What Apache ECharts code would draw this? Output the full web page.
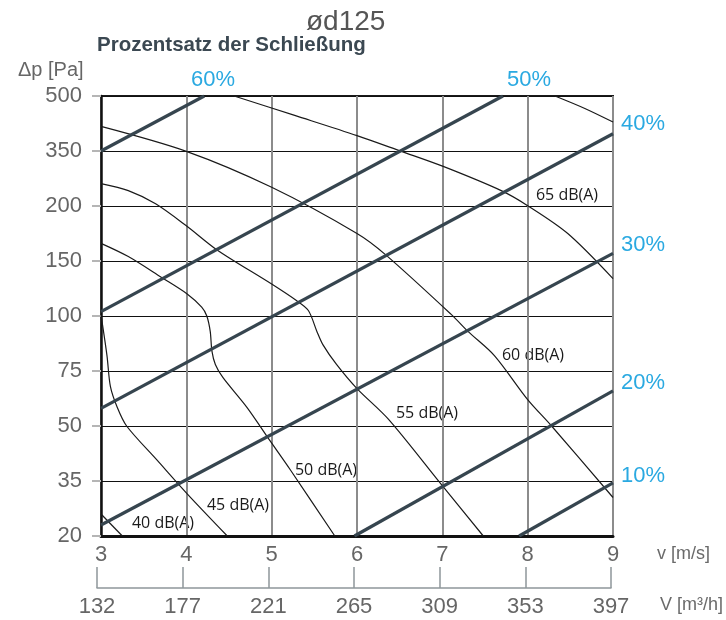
<!DOCTYPE html>
<html>
<head>
<meta charset="utf-8">
<script src="https://cdn.jsdelivr.net/npm/echarts@6/dist/echarts.min.js"></script>
<style>
  html, body { margin: 0; padding: 0; background: #fff; }
  #chart { width: 726px; height: 620px; }
</style>
</head>
<body>
<div id="chart"></div>
<script>
// Axis ticks
const velocityTicks = [3, 4, 5, 6, 7, 8, 9];               // v [m/s]
const flowTicks = [132, 177, 221, 265, 309, 353, 397];     // V [m³/h]
const pressureTicks = [20, 35, 50, 75, 100, 150, 200, 350, 500]; // Δp [Pa]

// Damper closure lines, [v, Δp]
const closure60 = [[3, 350], [4.21, 500]];
const closure50 = [[3, 104], [7.71, 500]];
const closure40 = [[3, 58], [9, 397]];
const closure30 = [[3, 23], [9, 157]];
const closure20 = [[5.97, 20], [9, 66]];
const closure10 = [[7.9, 20], [9, 34.5]];

// Sound power curves, [v, Δp]
const noise70 = [[8.32, 500], [8.67, 466], [9, 429]];
const noise65 = [[4.56, 500], [5.27, 447], [6.0, 392], [6.52, 349], [7.01, 308], [7.69, 242], [8.0, 201], [8.47, 175], [9, 134]];
const noise60 = [[3, 417], [4, 349], [5, 251], [6, 175], [6.33, 156], [7.11, 101], [7.3, 93], [7.61, 82], [8.0, 62], [8.28, 50], [9, 30.5]];
const noise55 = [[3, 261], [3.32, 242], [3.64, 206], [4.0, 182], [4.36, 160], [5.0, 129], [5.29, 114], [5.43, 105], [5.53, 93], [5.6, 87], [5.76, 78], [6.0, 67], [6.37, 53], [6.99, 34], [7.48, 20]];
const noise50 = [[3, 166], [3.32, 154], [3.71, 135], [4.01, 120], [4.18, 108], [4.24, 100], [4.28, 93], [4.3, 84], [4.34, 78], [4.43, 72], [4.71, 58.5], [4.98, 46], [5.22, 38], [5.74, 20]];
const noise45 = [[3, 101], [3.07, 82], [3.11, 68], [3.19, 58.5], [3.3, 50], [3.66, 40.6], [4.01, 31.5], [4.48, 20]];
const noise40 = [[3, 26], [3.25, 20]];

// The pressure axis places its ticks at equal steps; values in between are
// interpolated linearly between neighbouring ticks.
function toAxis(p) {
  for (let i = 0; i < pressureTicks.length - 1; i++) {
    const a = pressureTicks[i], b = pressureTicks[i + 1];
    if (p <= b || i === pressureTicks.length - 2) {
      return i + (p - a) / (b - a);
    }
  }
  return 0;
}

const GRID = { left: 101, right: 113, top: 96, bottom: 84 };
const FONT = "'Liberation Sans', Arial, sans-serif";
const LABEL_FONT = "'Open Sans', 'Noto Sans', sans-serif";
const CYAN = '#2aa9e1';
const SLATE = '#36454f';

function curve(data, opts) {
  return Object.assign({
    type: 'line',
    xAxisIndex: 0,
    yAxisIndex: 0,
    symbol: 'none',
    silent: true,
    animation: false,
    data: data.map(([v, p]) => [v, toAxis(p)])
  }, opts);
}

const thick = { lineStyle: { color: SLATE, width: 3.2 }, z: 4 };
const thin = { lineStyle: { color: '#1a1a1a', width: 1.2 }, smooth: 0.3, z: 3 };

const series = [
  curve(noise70, thin), curve(noise65, thin), curve(noise60, thin),
  curve(noise55, thin), curve(noise50, thin), curve(noise45, thin),
  curve(noise40, thin),
  curve(closure60, thick), curve(closure50, thick), curve(closure40, thick),
  curve(closure30, thick), curve(closure20, thick), curve(closure10, thick),
  { type: 'line', xAxisIndex: 1, yAxisIndex: 1, data: [], silent: true }
];

function text(x, y, str, style) {
  return {
    type: 'text', x: x, y: y, silent: true,
    style: Object.assign({ text: str, verticalAlign: 'middle' }, style)
  };
}
const pct = { fontSize: 22, fontFamily: FONT, fill: CYAN };
const dbl = { fontSize: 16, fontFamily: LABEL_FONT, fill: '#1a1a1a', align: 'center' };
const axt = { fontSize: 18, fontFamily: FONT, fill: '#6a6a6a' };

const chart = echarts.init(document.getElementById('chart'), null, { renderer: 'canvas' });
chart.setOption({
  animation: false,
  backgroundColor: '#ffffff',
  grid: [
    Object.assign({ show: true, borderColor: '#1a1a1a', borderWidth: 2, containLabel: false, outerBoundsMode: 'none' }, GRID),
    { left: 97, right: 115, top: 567, height: 21, containLabel: false, outerBoundsMode: 'none' }
  ],
  xAxis: [
    {
      type: 'value', gridIndex: 0, min: 3, max: 9, interval: 1,
      axisLine: { show: true, onZero: false, lineStyle: { color: '#111', width: 3 } },
      axisTick: { show: false },
      axisLabel: { margin: 8, fontSize: 22, fontFamily: FONT, color: '#666' },
      splitLine: { show: true, lineStyle: { color: '#8c8c8c', width: 2 } }
    },
    {
      type: 'value', gridIndex: 1, min: 3, max: 9, interval: 1,
      axisLine: { show: true, onZero: false, lineStyle: { color: '#8e969b', width: 1.5 } },
      axisTick: { show: true, inside: true, length: 21, lineStyle: { color: '#8e969b', width: 1.5 } },
      axisLabel: {
        margin: 8, fontSize: 22, fontFamily: FONT, color: '#666',
        formatter: v => String(flowTicks[velocityTicks.indexOf(v)])
      },
      splitLine: { show: false }
    }
  ],
  yAxis: [
    {
      type: 'value', gridIndex: 0, min: 0, max: pressureTicks.length - 1, interval: 1,
      axisLine: { show: true, onZero: false, lineStyle: { color: '#111', width: 2.5 } },
      axisTick: { show: true, length: 9, lineStyle: { color: '#b5b5b5', width: 2 } },
      axisLabel: {
        margin: 19, fontSize: 22, fontFamily: FONT, color: '#666',
        formatter: v => String(pressureTicks[v])
      },
      splitLine: { show: true, lineStyle: { color: '#111', width: 1 } }
    },
    { type: 'value', gridIndex: 1, min: 0, max: 1, show: false }
  ],
  series: series,
  graphic: [
    text(306, 22, 'ød125', { fontSize: 28, fontFamily: FONT, fill: '#555' }),
    text(97, 45, 'Prozentsatz der Schließung', { fontSize: 20.5, fontWeight: 'bold', fontFamily: FONT, fill: '#3b4852' }),
    text(18, 70, 'Δp [Pa]', { fontSize: 20, fontFamily: FONT, fill: '#666' }),
    text(213, 80, '60%', Object.assign({ align: 'center' }, pct)),
    text(529, 80, '50%', Object.assign({ align: 'center' }, pct)),
    text(621, 124, '40%', pct),
    text(621, 245, '30%', pct),
    text(621, 383, '20%', pct),
    text(621, 476, '10%', pct),
    text(567, 195, '65 dB(A)', dbl),
    text(533, 355, '60 dB(A)', dbl),
    text(427, 413, '55 dB(A)', dbl),
    text(326, 470, '50 dB(A)', dbl),
    text(238, 505, '45 dB(A)', dbl),
    text(163, 523, '40 dB(A)', dbl),
    text(657, 554, 'v [m/s]', axt),
    text(660, 605, 'V [m³/h]', axt)
  ]
});
</script>
</body>
</html>
